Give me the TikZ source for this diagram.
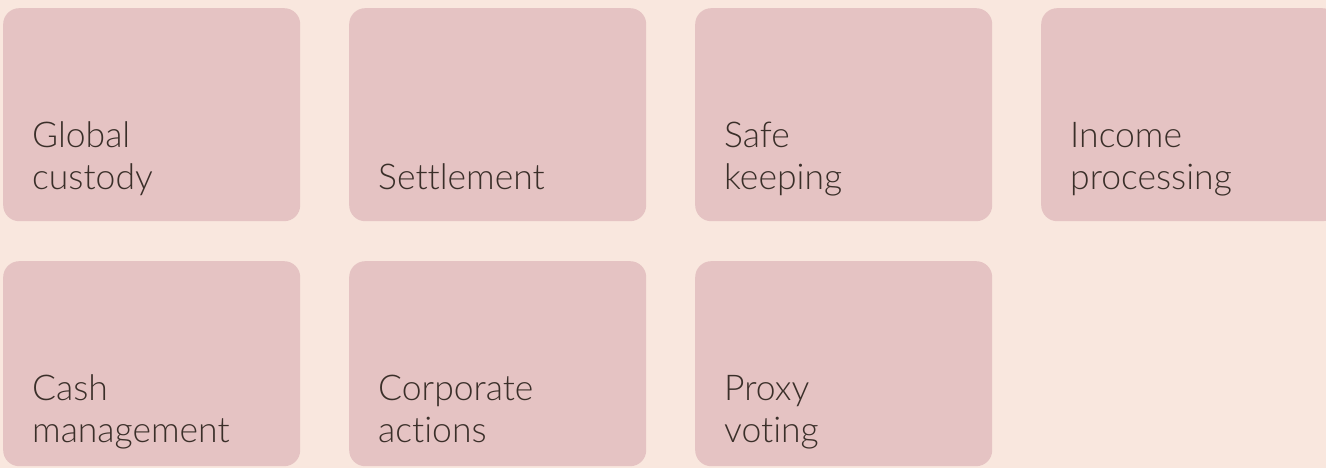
\documentclass[tikz,border=0pt]{standalone}
\usepackage{fontspec}
\setmainfont[Ligatures=NoCommon]{Lato Light}
\definecolor{bg}{HTML}{F9E7DE}
\definecolor{boxc}{HTML}{E5C3C3}
\definecolor{txt}{HTML}{3A2F29}
\begin{document}
\begin{tikzpicture}[x=1pt,y=-1pt,
  card/.style={fill=boxc,draw=none,rounded corners=16pt,anchor=north west,inner sep=0,minimum width=297pt},
  cardA/.style={card,minimum height=213pt},
  cardB/.style={card,minimum height=205pt},
  lbl/.style={anchor=south west,inner sep=0,text depth=0pt,align=left,text=txt,font=\fontsize{35.5}{41.5}\selectfont}]
\clip (0,0) rectangle (1326,468);
\fill[bg] (0,0) rectangle (1326,468);
\node[cardA] (b1) at (3,8) {};
\node[cardA] (b2) at (349,8) {};
\node[cardA] (b3) at (695,8) {};
\node[cardA] (b4) at (1041,8) {};
\node[cardB] (b5) at (3,261) {};
\node[cardB] (b6) at (349,261) {};
\node[cardB] (b7) at (695,261) {};
\node[lbl] (t1) at ([xshift=29pt,yshift=32pt]b1.south west) {Global\\custody};
\node[lbl] (t2) at ([xshift=29pt,yshift=32pt]b2.south west) {Settlement};
\node[lbl] (t3) at ([xshift=29pt,yshift=32pt]b3.south west) {Safe\\keeping};
\node[lbl] (t4) at ([xshift=29pt,yshift=32pt]b4.south west) {Income\\processing};
\node[lbl] (t5) at ([xshift=29pt,yshift=24pt]b5.south west) {Cash\\management};
\node[lbl] (t6) at ([xshift=29pt,yshift=24pt]b6.south west) {Corporate\\actions};
\node[lbl] (t7) at ([xshift=29pt,yshift=24pt]b7.south west) {Proxy\\voting};
\end{tikzpicture}
\end{document}
